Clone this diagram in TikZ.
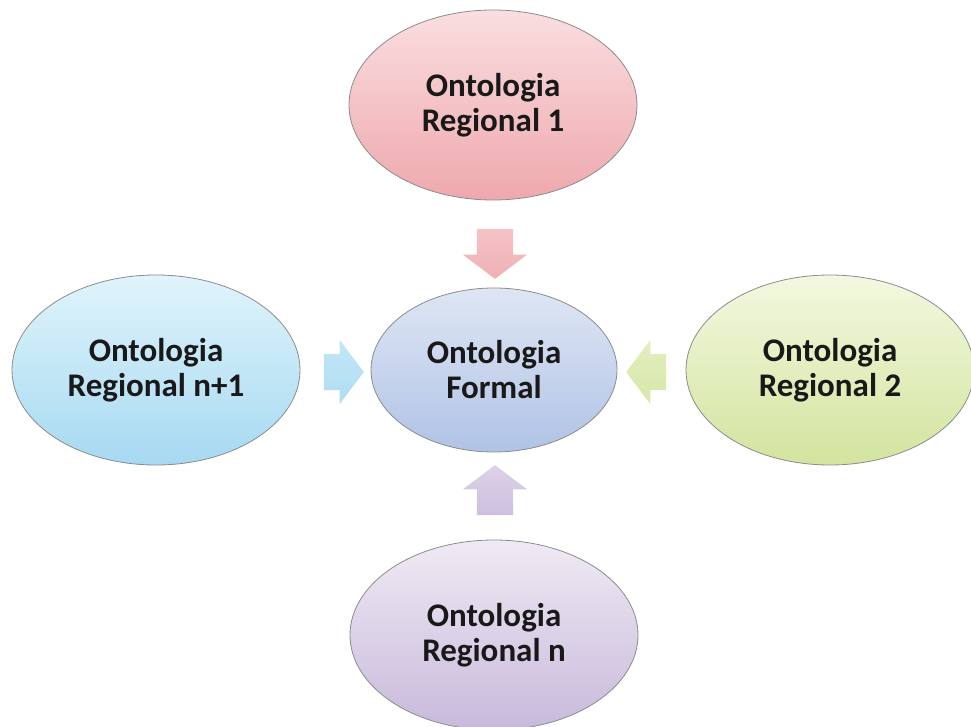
\documentclass[tikz,border=0pt]{standalone}
\usepackage{fontspec}
\setmainfont{Carlito}
\definecolor{PinkTop}  {RGB}{250,222,224}
\definecolor{PinkBot}  {RGB}{238,168,173}
\definecolor{FormTop}  {RGB}{222,230,244}
\definecolor{FormBot}  {RGB}{176,195,229}
\definecolor{CyanTop}  {RGB}{224,244,251}
\definecolor{CyanBot}  {RGB}{166,217,241}
\definecolor{GreenTop} {RGB}{243,248,224}
\definecolor{GreenBot} {RGB}{210,228,158}
\definecolor{LilacTop} {RGB}{239,234,244}
\definecolor{LilacBot} {RGB}{200,185,219}
\usetikzlibrary{shapes.geometric,shapes.arrows}

\begin{document}
\begin{tikzpicture}[x=1pt,y=-1pt,
    onto/.style={ellipse,draw=black!45,line width=0.8pt,inner sep=0pt,
        align=center,text=black!90,font=\fontsize{33}{35}\selectfont\bfseries},
    blockarrow/.style={single arrow,draw=none,
        single arrow head extend=14pt,single arrow tip angle=106}]
  \clip (0,0) rectangle (971,727);
  %% Formal ontology (centre)
  \node[onto,minimum width=246pt,minimum height=164pt,
        top color=FormTop,bottom color=FormBot] (formal) at (494,370)
    {Ontologia\\Formal};
  %% Regional ontologies
  \foreach \x/\y/\n/\col/\t in {
      493/105/r1/Pink/{Ontologia\\Regional 1},
      830/370/r2/Green/{Ontologia\\Regional 2},
      494/635/rn/Lilac/{Ontologia\\Regional n},
      156/370/rnn/Cyan/{Ontologia\\Regional n+1}}{
    \node[onto,minimum width=288pt,minimum height=190pt,
          top color=\col Top,bottom color=\col Bot] (\n) at (\x,\y) {\t};
  }
  %% Block arrows towards the formal ontology
  \foreach \x/\y/\n/\r/\len/\xs/\ys/\col in {
      495/247/ar1/270/50/18/0/Pink,
      653/372/ar2/180/40/0/18/Green,
      495/497/arn/90/50/18/0/Lilac,
      337/372/arnn/0/40/0/18/Cyan}{
    \node[blockarrow,shape border rotate=\r,minimum height=\len pt,
          inner xsep=\xs pt,inner ysep=\ys pt,
          top color=\col Top!50!\col Bot,bottom color=\col Bot!90!white] (\n) at (\x,\y) {};
  }
\end{tikzpicture}
\end{document}
